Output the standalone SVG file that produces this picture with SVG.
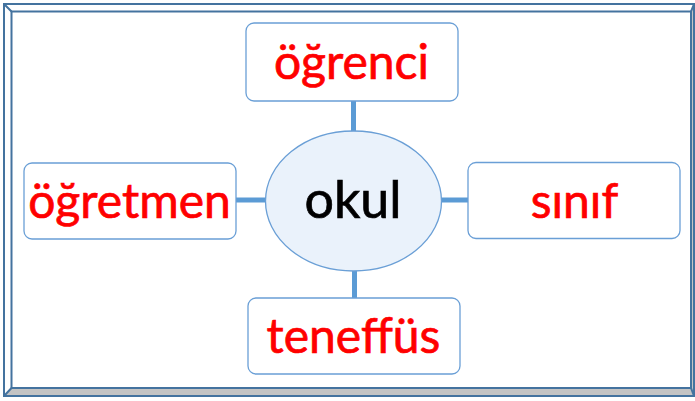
<svg xmlns="http://www.w3.org/2000/svg" width="695" height="401" viewBox="0 0 695 401">
  <style>
    .frame { fill: none; stroke: #44739f; stroke-width: 2; }
    .box { fill: #ffffff; stroke: #6a9fd6; stroke-width: 1.3; }
    .conn { stroke: #5b9bd5; stroke-width: 5; fill: none; }
    .lbl { font-family: Lato, "Liberation Sans", sans-serif; font-size: 48px; fill: #ff0000; stroke: #ff0000; stroke-width: 0.7; text-anchor: middle; }
    .center { font-family: Lato, "Liberation Sans", sans-serif; font-size: 52px; fill: #000000; stroke: #000000; stroke-width: 0.7; text-anchor: middle; }
  </style>
  <rect width="695" height="401" fill="#ffffff"/>
  <g id="frame">
    <path d="M691,11.5 L694,4 L694,396 L4,396 L11.5,388 L691,388 Z" fill="#c4c4c4"/>
    <rect class="frame" x="4" y="4" width="690" height="392"/>
    <rect class="frame" x="11.5" y="11.5" width="679.5" height="376.5"/>
    <path class="frame" d="M4,4 L11.5,11.5 M694,4 L691,11.5 M4,396 L11.5,388 M694,396 L691,388"/>
  </g>
  <g id="connectors">
    <line class="conn" x1="353.5" y1="101" x2="353.5" y2="132"/>
    <line class="conn" x1="354.5" y1="270" x2="354.5" y2="298"/>
    <line class="conn" x1="236" y1="200" x2="266" y2="200"/>
    <line class="conn" x1="441" y1="200" x2="468" y2="200"/>
  </g>
  <g id="okul">
    <ellipse cx="353.5" cy="201" rx="88" ry="70" fill="#eaf2fb" stroke="#6a9fd6" stroke-width="1.3"/>
    <text class="center" x="353" y="218">okul</text>
  </g>
  <g id="ogrenci">
    <rect class="box" x="246" y="23" width="212" height="78" rx="8"/>
    <text class="lbl" x="351.5" y="79">öğrenci</text>
  </g>
  <g id="ogretmen">
    <rect class="box" x="24" y="163" width="212" height="76" rx="8"/>
    <text class="lbl" x="129.5" y="218">öğretmen</text>
  </g>
  <g id="sinif">
    <rect class="box" x="468" y="162.5" width="212" height="76" rx="8"/>
    <text class="lbl" x="574.5" y="217.5">sınıf</text>
  </g>
  <g id="teneffus">
    <rect class="box" x="248" y="298" width="212" height="76" rx="8"/>
    <text class="lbl" x="353.5" y="353">teneffüs</text>
  </g>
</svg>
